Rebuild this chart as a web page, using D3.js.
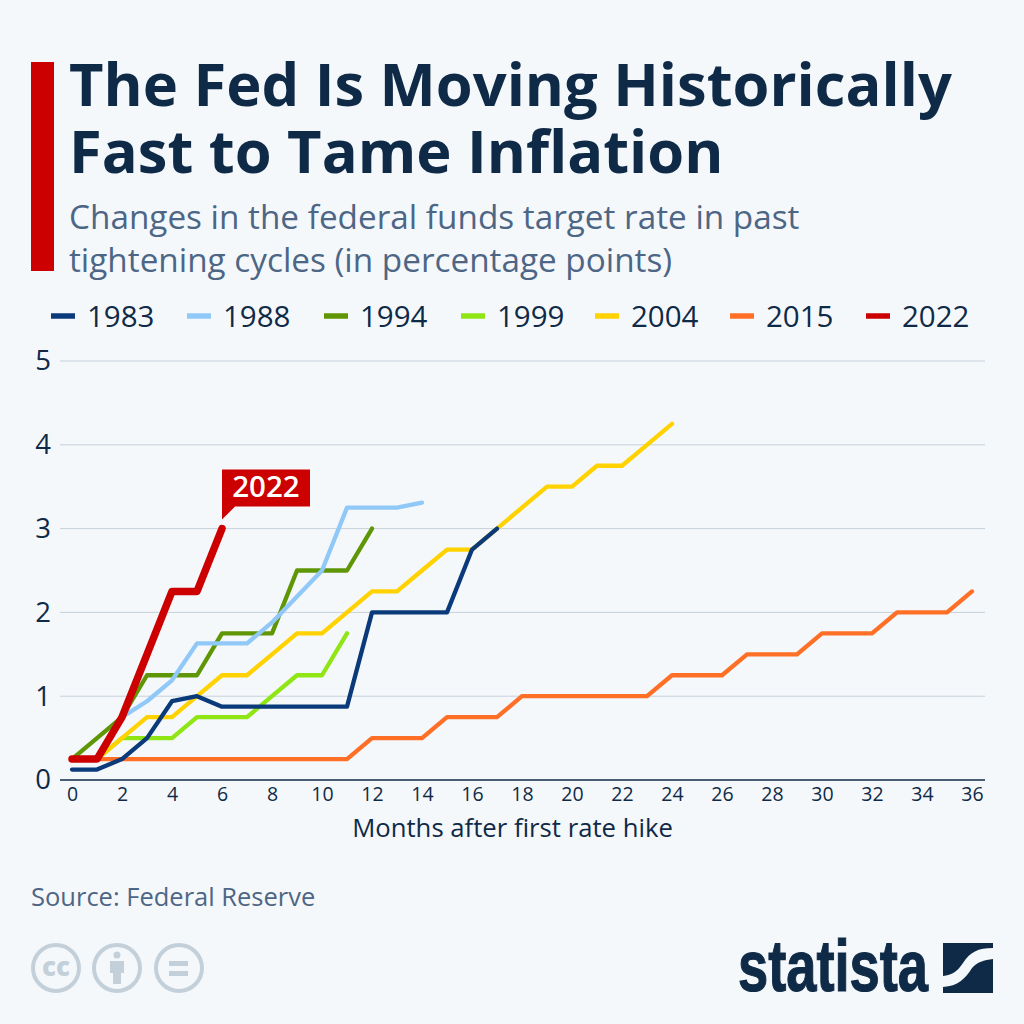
<!DOCTYPE html>
<html>
<head>
<meta charset="utf-8">
<script src="https://cdn.jsdelivr.net/npm/d3@7"></script>
<style>
  html, body { margin: 0; padding: 0; background: #f5f8fb; }
  svg { display: block; font-family: "Open Sans", "Noto Sans", sans-serif; }
  .grid line { stroke: #c5d0da; stroke-width: 1; }
</style>
</head>
<body>
<div id="chart"></div>
<script>
const width = 1024;
const height = 1024;

const years = ["1983", "1988", "1994", "1999", "2004", "2015", "2022"];
const colors = ["#0b3a7a", "#90c8f8", "#5f9606", "#90e614", "#ffd200", "#ff6f26", "#cc0000"];

const v1983 = [0.125, 0.125, 0.25, 0.5, 0.94, 1, 0.875, 0.875, 0.875, 0.875, 0.875, 0.875, 2, 2, 2, 2, 2.75, 3];
const v1988 = [null, null, 0.75, 0.94, 1.19, 1.63, 1.63, 1.63, 1.88, 2.19, 2.5, 3.25, 3.25, 3.25, 3.31];
const v1994 = [0.25, 0.5, 0.75, 1.25, 1.25, 1.25, 1.75, 1.75, 1.75, 2.5, 2.5, 2.5, 3];
const v1999 = [0.25, 0.25, 0.5, 0.5, 0.5, 0.75, 0.75, 0.75, 1, 1.25, 1.25, 1.75];
const v2004 = [0.25, 0.25, 0.5, 0.75, 0.75, 1, 1.25, 1.25, 1.5, 1.75, 1.75, 2, 2.25, 2.25, 2.5, 2.75, 2.75, 3, 3.25, 3.5, 3.5, 3.75, 3.75, 4, 4.25];
const v2015 = [0.25, 0.25, 0.25, 0.25, 0.25, 0.25, 0.25, 0.25, 0.25, 0.25, 0.25, 0.25, 0.5, 0.5, 0.5, 0.75, 0.75, 0.75, 1, 1, 1, 1, 1, 1, 1.25, 1.25, 1.25, 1.5, 1.5, 1.5, 1.75, 1.75, 1.75, 2, 2, 2, 2.25];
const v2022 = [0.25, 0.25, 0.75, 1.5, 2.25, 2.25, 3];

const seriesValues = [v1983, v1988, v1994, v1999, v2004, v2015, v2022];
const drawOrder = [5, 2, 3, 4, 1, 0, 6];

const xTicks = d3.range(0, 37, 2);
const yTicks = [0, 1, 2, 3, 4, 5];

const navy = "#0f2a47";
const slate = "#4d6685";

const x = d3.scaleLinear().domain([0, 36]).range([72, 972]);
const y = d3.scaleLinear().domain([0, 5]).range([780, 361]);

const svg = d3.select("#chart").append("svg")
  .attr("width", width)
  .attr("height", height)
  .attr("viewBox", [0, 0, width, height]);

svg.append("rect").attr("width", width).attr("height", height).attr("fill", "#f5f8fb");

// header
svg.append("rect").attr("x", 31).attr("y", 62).attr("width", 23).attr("height", 209).attr("fill", "#cc0000");

const title = svg.append("text").attr("fill", navy).attr("font-size", 59.65).attr("font-weight", 700);
title.append("tspan").attr("x", 69).attr("y", 106).text("The Fed Is Moving Historically");
title.append("tspan").attr("x", 69).attr("y", 173).text("Fast to Tame Inflation");

const subtitle = svg.append("text").attr("fill", slate).attr("font-size", 33.3);
subtitle.append("tspan").attr("x", 69).attr("y", 229).text("Changes in the federal funds target rate in past");
subtitle.append("tspan").attr("x", 69).attr("y", 272).text("tightening cycles (in percentage points)");

// legend
const legendText = [87, 223, 360, 497, 631, 766, 902];

const legend = svg.append("g").selectAll("g")
  .data(years)
  .join("g")
  .attr("transform", (d, i) => `translate(${legendText[i]}, 316)`);

legend.append("line")
  .attr("x1", -36).attr("x2", -12)
  .attr("stroke", (d, i) => colors[i])
  .attr("stroke-width", 5.5);

legend.append("text")
  .attr("y", 10.5)
  .attr("font-size", 29.5)
  .attr("fill", navy)
  .text(d => d);

// axes
svg.append("g")
  .attr("class", "grid")
  .selectAll("line")
  .data(yTicks.slice(1))
  .join("line")
  .attr("x1", 60).attr("x2", 985)
  .attr("y1", d => y(d)).attr("y2", d => y(d));

const yAxis = svg.append("g")
  .attr("transform", "translate(60,0)")
  .call(d3.axisLeft(y).tickValues(yTicks).tickFormat(d3.format("d")).tickSize(0).tickPadding(9));
yAxis.select(".domain").remove();
yAxis.selectAll("text")
  .attr("font-family", "Open Sans")
  .attr("font-size", 27.5)
  .attr("fill", navy);

const xAxis = svg.append("g")
  .attr("transform", `translate(0,${y(0)})`)
  .call(d3.axisBottom(x).tickValues(xTicks).tickSize(0).tickPadding(7));
xAxis.select(".domain").remove();
xAxis.selectAll("text")
  .attr("font-family", "Open Sans")
  .attr("font-size", 19.5)
  .attr("fill", navy);

svg.append("line")
  .attr("x1", 60).attr("x2", 985)
  .attr("y1", y(0)).attr("y2", y(0))
  .attr("stroke", navy)
  .attr("stroke-width", 1.5);

svg.append("text")
  .attr("x", 512.5)
  .attr("y", 837)
  .attr("text-anchor", "middle")
  .attr("font-size", 25.7)
  .attr("fill", navy)
  .text("Months after first rate hike");

// lines
const line = d3.line()
  .defined(d => d !== null)
  .x((d, i) => x(i))
  .y(d => y(d));

svg.append("g")
  .selectAll("path")
  .data(drawOrder)
  .join("path")
  .attr("d", i => line(seriesValues[i]))
  .attr("fill", "none")
  .attr("stroke", i => colors[i])
  .attr("stroke-width", i => i === 6 ? 7.5 : 4.3)
  .attr("stroke-linejoin", "round")
  .attr("stroke-linecap", "round");

// callout on the last 2022 point
const tipX = x(v2022.length - 1);
const tipY = y(v2022[v2022.length - 1]);
svg.append("path")
  .attr("d", `M${tipX},${tipY - 9}V${tipY - 59}H${tipX + 88}V${tipY - 22}H${tipX + 13}Z`)
  .attr("fill", "#cc0000");
svg.append("text")
  .attr("x", tipX + 44)
  .attr("y", tipY - 32)
  .attr("text-anchor", "middle")
  .attr("font-size", 29.5)
  .attr("font-weight", 600)
  .attr("fill", "#fff")
  .text("2022");

// footer
svg.append("text")
  .attr("x", 31)
  .attr("y", 906)
  .attr("font-size", 25.5)
  .attr("fill", slate)
  .text("Source: Federal Reserve");

// licence icons
const iconColor = "#c3d0da";
const icons = svg.append("g");
[56, 117, 179].forEach(cx => {
  icons.append("circle")
    .attr("cx", cx).attr("cy", 968).attr("r", 23)
    .attr("fill", "none")
    .attr("stroke", iconColor)
    .attr("stroke-width", 4);
});
icons.append("text")
  .attr("x", 56).attr("y", 976)
  .attr("text-anchor", "middle")
  .attr("font-size", 26)
  .attr("font-weight", 800)
  .attr("fill", iconColor)
  .text("cc");
icons.append("circle").attr("cx", 117).attr("cy", 955).attr("r", 3.5).attr("fill", iconColor);
icons.append("path")
  .attr("d", "M110,961H124V973H121V984H113V973H110Z")
  .attr("fill", iconColor);
icons.append("rect").attr("x", 169).attr("y", 961).attr("width", 19).attr("height", 5).attr("fill", iconColor);
icons.append("rect").attr("x", 169).attr("y", 971).attr("width", 19).attr("height", 5).attr("fill", iconColor);

// logo
svg.append("text")
  .attr("x", 738)
  .attr("y", 991)
  .attr("font-family", "Liberation Sans")
  .attr("font-size", 72)
  .attr("font-weight", 700)
  .attr("fill", navy)
  .attr("stroke", navy)
  .attr("stroke-width", 1.2)
  .attr("textLength", 190)
  .attr("lengthAdjust", "spacingAndGlyphs")
  .text("statista");

svg.append("path")
  .attr("d", "M943,943H993V948C978,948 970,952 963,963C957,972 952,975 943,976Z")
  .attr("fill", navy);
svg.append("path")
  .attr("d", "M993,959V993H943V987C958,986 965,979 972,968C977,962 984,960 993,959Z")
  .attr("fill", navy);
</script>
</body>
</html>
